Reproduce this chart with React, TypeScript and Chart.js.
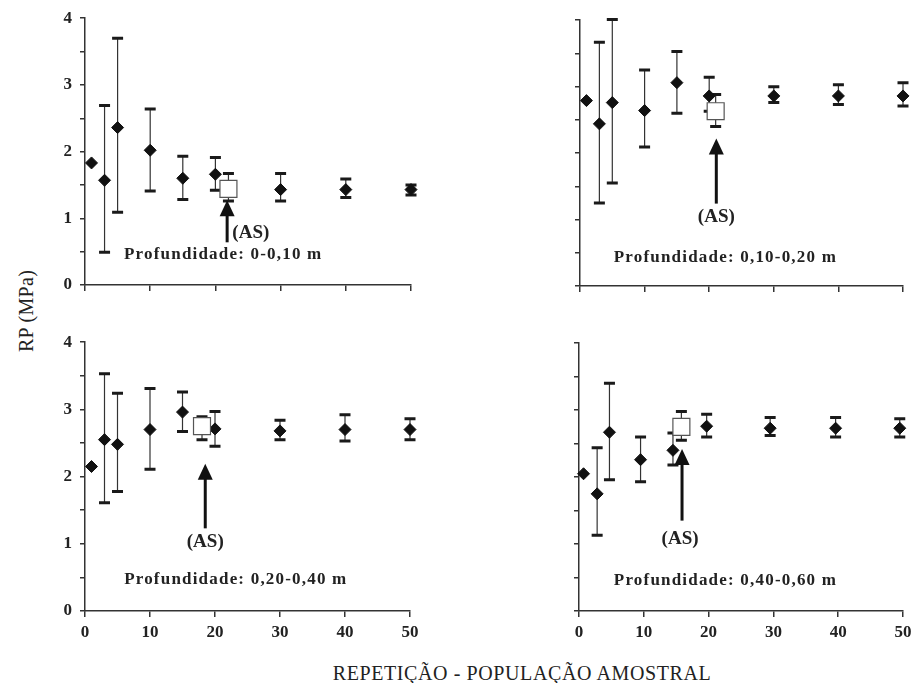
import React, { useEffect, useRef } from 'react';
import { Chart, registerables } from 'chart.js';

Chart.register(...registerables);

// ---------- DATA ----------
const REPETICOES = [1, 3, 5, 10, 15, 20, 30, 40, 50];
const REPETICOES_P4 = [0.7, 2.8, 4.7, 9.5, 14.5, 19.7, 29.5, 39.6, 49.5];
const Y_TICKS_MAX = 4;

// Profundidade 0-0,10 m
const P1_MEAN = [1.83, 1.57, 2.36, 2.02, 1.6, 1.66, 1.43, 1.43, 1.43];
const P1_UP = [null, 2.69, 3.7, 2.64, 1.93, 1.91, 1.67, 1.59, 1.5];
const P1_LO = [null, 0.49, 1.09, 1.41, 1.28, 1.42, 1.26, 1.31, 1.35];
const P1_AS = { x: 22, mean: 1.44, up: 1.67, lo: 1.26 };

// Profundidade 0,10-0,20 m
const P2_MEAN = [2.79, 2.44, 2.76, 2.64, 3.06, 2.86, 2.86, 2.86, 2.86];
const P2_UP = [null, 3.67, 4.01, 3.25, 3.53, 3.14, 3.0, 3.03, 3.06];
const P2_LO = [null, 1.25, 1.55, 2.09, 2.6, 2.63, 2.76, 2.73, 2.71];
const P2_AS = { x: 21, mean: 2.63, up: 2.88, lo: 2.4 };

// Profundidade 0,20-0,40 m
const P3_MEAN = [2.15, 2.55, 2.48, 2.7, 2.96, 2.71, 2.68, 2.7, 2.7];
const P3_UP = [null, 3.53, 3.24, 3.31, 3.26, 2.97, 2.84, 2.92, 2.86];
const P3_LO = [null, 1.61, 1.78, 2.11, 2.67, 2.45, 2.55, 2.53, 2.55];
const P3_AS = { x: 18, mean: 2.75, up: 2.89, lo: 2.55 };

// Profundidade 0,40-0,60 m
const P4_MEAN = [2.05, 1.75, 2.67, 2.26, 2.4, 2.76, 2.73, 2.73, 2.73];
const P4_UP = [null, 2.44, 3.4, 2.6, 2.66, 2.94, 2.89, 2.89, 2.87];
const P4_LO = [null, 1.13, 1.96, 1.93, 2.18, 2.6, 2.62, 2.6, 2.6];
const P4_AS = { x: 15.8, mean: 2.75, up: 2.98, lo: 2.55 };

const LABELS = [
  'Profundidade: 0-0,10 m',
  'Profundidade: 0,10-0,20 m',
  'Profundidade: 0,20-0,40 m',
  'Profundidade: 0,40-0,60 m',
];
const AS_TEXT = '(AS)';
const Y_TITLE = 'RP (MPa)';
const X_TITLE = 'REPETIÇÃO - POPULAÇÃO AMOSTRAL';

// ---------- LAYOUT ----------
const YW = 45;
const PT = 12;
const PR = 14;
const XH = 42;
const SERIF = '"Liberation Serif", "Times New Roman", serif';

type Annot = {
  arrowX: number; arrowTip: number; arrowTail: number;
  asX: number; asY: number; asAlign: CanvasTextAlign;
  labelX: number; labelY: number;
};

type PanelDef = {
  xs: number[]; mean: number[]; up: (number | null)[]; lo: (number | null)[];
  as: { x: number; mean: number; up: number; lo: number };
  label: string;
  annot: Annot;
  showY: boolean; showX: boolean;
  area: { l: number; t: number; r: number; b: number };
};

const PANELS: PanelDef[] = [
  {
    xs: REPETICOES, mean: P1_MEAN, up: P1_UP, lo: P1_LO, as: P1_AS, label: LABELS[0],
    annot: { arrowX: 21.8, arrowTip: 1.27, arrowTail: 0.64, asX: 22.6, asY: 0.78, asAlign: 'left', labelX: 21.2, labelY: 0.45 },
    showY: true, showX: false, area: { l: 85, t: 17, r: 411, b: 285 },
  },
  {
    xs: REPETICOES, mean: P2_MEAN, up: P2_UP, lo: P2_LO, as: P2_AS, label: LABELS[1],
    annot: { arrowX: 21.1, arrowTip: 2.22, arrowTail: 1.24, asX: 21.1, asY: 1.04, asAlign: 'center', labelX: 22.5, labelY: 0.43 },
    showY: false, showX: false, area: { l: 580, t: 19, r: 903, b: 286 },
  },
  {
    xs: REPETICOES, mean: P3_MEAN, up: P3_UP, lo: P3_LO, as: P3_AS, label: LABELS[2],
    annot: { arrowX: 18.5, arrowTip: 2.19, arrowTail: 1.23, asX: 18.5, asY: 1.02, asAlign: 'center', labelX: 23.2, labelY: 0.46 },
    showY: true, showX: true, area: { l: 85, t: 341, r: 410, b: 611 },
  },
  {
    xs: REPETICOES_P4, mean: P4_MEAN, up: P4_UP, lo: P4_LO, as: P4_AS, label: LABELS[3],
    annot: { arrowX: 15.9, arrowTip: 2.42, arrowTail: 1.35, asX: 15.6, asY: 1.08, asAlign: 'center', labelX: 22.6, labelY: 0.46 },
    showY: false, showX: true, area: { l: 579, t: 342, r: 903, b: 611 },
  },
];

function makeErrorBarPlugin(def: PanelDef) {
  return {
    id: 'errorBars',
    beforeDatasetsDraw(chart: any) {
      const { ctx } = chart;
      const xs = chart.scales.x;
      const ys = chart.scales.y;
      const draw = (xv: number, up: number, lo: number) => {
        const px = xs.getPixelForValue(xv);
        const pu = ys.getPixelForValue(up);
        const pl = ys.getPixelForValue(lo);
        ctx.save();
        ctx.strokeStyle = '#333';
        ctx.lineWidth = 1.2;
        ctx.beginPath();
        ctx.moveTo(px, pu);
        ctx.lineTo(px, pl);
        ctx.stroke();
        ctx.strokeStyle = '#1a1a1a';
        ctx.lineWidth = 3;
        ctx.beginPath();
        ctx.moveTo(px - 5.5, pu);
        ctx.lineTo(px + 5.5, pu);
        ctx.moveTo(px - 5.5, pl);
        ctx.lineTo(px + 5.5, pl);
        ctx.stroke();
        ctx.restore();
      };
      def.xs.forEach((xv, i) => {
        const u = def.up[i];
        const l = def.lo[i];
        if (u != null && l != null) draw(xv, u, l);
      });
      draw(def.as.x, def.as.up, def.as.lo);
    },
  };
}

function makeAnnotPlugin(def: PanelDef) {
  return {
    id: 'annot',
    afterDatasetsDraw(chart: any) {
      const { ctx } = chart;
      const xs = chart.scales.x;
      const ys = chart.scales.y;
      const a = def.annot;
      const ax = xs.getPixelForValue(a.arrowX);
      const tip = ys.getPixelForValue(a.arrowTip);
      const tail = ys.getPixelForValue(a.arrowTail);
      ctx.save();
      ctx.fillStyle = '#111';
      ctx.strokeStyle = '#111';
      ctx.lineWidth = 3;
      ctx.beginPath();
      ctx.moveTo(ax, tail);
      ctx.lineTo(ax, tip + 12);
      ctx.stroke();
      ctx.beginPath();
      ctx.moveTo(ax, tip);
      ctx.lineTo(ax - 7.5, tip + 16);
      ctx.lineTo(ax + 7.5, tip + 16);
      ctx.closePath();
      ctx.fill();

      ctx.fillStyle = '#222';
      ctx.textBaseline = 'middle';
      ctx.font = `bold 19px ${SERIF}`;
      ctx.textAlign = a.asAlign;
      ctx.fillText(AS_TEXT, xs.getPixelForValue(a.asX), ys.getPixelForValue(a.asY));

      ctx.font = `bold 17px ${SERIF}`;
      try { (ctx as any).letterSpacing = '1.2px'; } catch (e) { /* ignore */ }
      ctx.textAlign = 'center';
      ctx.fillText(def.label, xs.getPixelForValue(a.labelX), ys.getPixelForValue(a.labelY));
      try { (ctx as any).letterSpacing = '0px'; } catch (e) { /* ignore */ }
      ctx.restore();
    },
  };
}

function Panel({ def }: { def: PanelDef }) {
  const ref = useRef<HTMLCanvasElement>(null);
  const { l, t, r, b } = def.area;
  const w = r - l + YW + PR;
  const h = b - t + PT + XH;

  useEffect(() => {
    if (!ref.current) return;
    const tickFont = { family: SERIF, size: 17, weight: 'bold' as const };
    const chart = new Chart(ref.current, {
      type: 'scatter',
      data: {
        datasets: [
          {
            data: [{ x: def.as.x, y: def.as.mean }],
            pointStyle: 'rect',
            radius: 12,
            backgroundColor: '#ffffff',
            borderColor: '#555',
            borderWidth: 1.2,
            clip: false as any,
          },
          {
            data: def.xs.map((x, i) => ({ x, y: def.mean[i] })),
            pointStyle: 'rectRot',
            radius: 6,
            backgroundColor: '#111',
            borderColor: '#111',
            borderWidth: 1,
            clip: false as any,
          },
        ],
      },
      options: {
        responsive: false,
        animation: false,
        events: [],
        layout: { padding: { top: PT, right: PR, left: 0, bottom: 0 } },
        plugins: { legend: { display: false }, tooltip: { enabled: false } },
        scales: {
          x: {
            type: 'linear',
            min: 0,
            max: 50,
            ticks: {
              stepSize: 10,
              autoSkip: false,
              maxRotation: 0,
              padding: 5,
              color: '#222',
              font: tickFont,
              callback: (v: any) => (def.showX ? String(v) : ''),
            },
            grid: { drawOnChartArea: false, drawTicks: true, tickLength: 6, color: '#333', lineWidth: 1.5 },
            border: { color: '#333', width: 1.5 },
            afterFit: (s: any) => { s.height = XH; s.paddingLeft = 0; s.paddingRight = 0; },
          },
          y: {
            type: 'linear',
            min: 0,
            max: Y_TICKS_MAX,
            ticks: {
              stepSize: 0.5,
              autoSkip: false,
              padding: 8,
              color: '#222',
              font: tickFont,
              callback: (v: any) => (def.showY && Number.isInteger(v) ? String(v) : ''),
            },
            grid: { drawOnChartArea: false, drawTicks: true, tickLength: 5, color: '#333', lineWidth: 1.5 },
            border: { color: '#333', width: 1.5 },
            afterFit: (s: any) => { s.width = YW; s.paddingTop = 0; s.paddingBottom = 0; },
          },
        },
      } as any,
      plugins: [makeErrorBarPlugin(def), makeAnnotPlugin(def)],
    });
    return () => chart.destroy();
  }, [def]);

  return (
    <canvas
      ref={ref}
      width={w}
      height={h}
      style={{ position: 'absolute', left: l - YW, top: t - PT, width: w, height: h }}
    />
  );
}

export default function App() {
  return (
    <div style={{ position: 'absolute', left: 0, top: 0, width: 916, height: 683, background: '#fff', overflow: 'hidden' }}>
      {PANELS.map((p, i) => (
        <Panel key={i} def={p} />
      ))}
      <div
        style={{
          position: 'absolute',
          left: 26,
          top: 311,
          transform: 'translate(-50%, -50%) rotate(-90deg)',
          fontFamily: SERIF,
          fontSize: 20,
          lineHeight: '23px',
          letterSpacing: '0.3px',
          color: '#222',
          whiteSpace: 'nowrap',
        }}
      >
        {Y_TITLE}
      </div>
      <div
        style={{
          position: 'absolute',
          left: 522,
          top: 673,
          transform: 'translate(-50%, -50%)',
          fontFamily: SERIF,
          fontSize: 20,
          lineHeight: '23px',
          letterSpacing: '0.6px',
          color: '#222',
          whiteSpace: 'nowrap',
        }}
      >
        {X_TITLE}
      </div>
    </div>
  );
}
